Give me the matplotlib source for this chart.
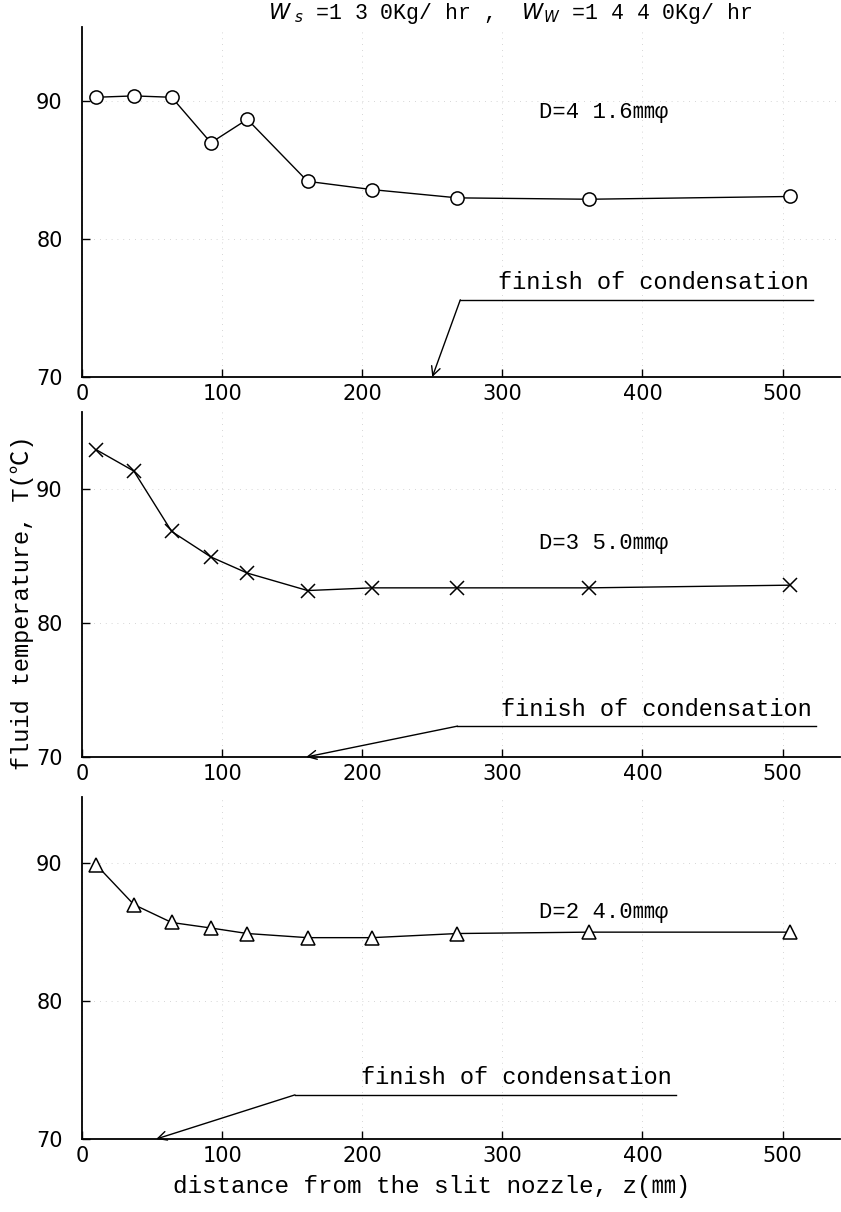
import matplotlib
matplotlib.use("Agg")
import matplotlib.pyplot as plt

# distance from nozzle (mm) and fluid temperature (C) for three pipe diameters
z = [10, 37, 64, 92, 118, 161, 207, 268, 362, 505]
T_416 = [90.3, 90.4, 90.3, 87.0, 88.7, 84.2, 83.6, 83.0, 82.9, 83.1]
T_350 = [92.9, 91.3, 86.8, 84.9, 83.7, 82.4, 82.6, 82.6, 82.6, 82.8]
T_240 = [89.9, 87.0, 85.7, 85.3, 84.9, 84.6, 84.6, 84.9, 85.0, 85.0]

d_labels = ["D=4 1.6㎜φ", "D=3 5.0㎜φ", "D=2 4.0㎜φ"]
markers = ["o", "x", "^"]
finish_z = [250, 160, 53]          # finish of condensation
xticks = [0, 100, 200, 300, 400, 500]
yticks = [70, 80, 90]

mono = ["Liberation Mono", "Noto Sans CJK JP", "DejaVu Sans"]
plt.rcParams["font.family"] = ["DejaVu Sans", "Noto Sans CJK JP"]

fig = plt.figure(figsize=(8.41, 12.12), dpi=100)
W, H = 841.0, 1212.0
# axes boxes in pixels: left, top, right, bottom
boxes = [(82, 27, 840, 377), (82, 412, 840, 757), (82, 797, 840, 1139)]
ytops = [95.4, 95.7, 94.8]
# annotation: underline start x, end x, y
notes = [(270, 522, 75.6), (268, 524, 72.3), (152, 424, 73.2)]
dpos = [(326, 89.2), (326, 85.9), (326, 86.4)]

series = [T_416, T_350, T_240]
for i in range(3):
    l, t, r, b = boxes[i]
    ax = fig.add_axes([l / W, 1 - b / H, (r - l) / W, (b - t) / H])
    ax.plot(z, series[i], color="black", lw=1.0, marker=markers[i],
            ms=10 if markers[i] != "o" else 9.5, mfc="white", mec="black",
            mew=1.1, zorder=3)
    ax.set_xlim(0, 541)
    ax.set_ylim(70, ytops[i])
    for s in ["top", "right"]:
        ax.spines[s].set_visible(False)
    ax.spines["left"].set_linewidth(1.3)
    ax.spines["bottom"].set_linewidth(1.3)
    ax.set_xticks(xticks)
    ax.set_yticks(yticks)
    ax.set_xticklabels([str(v) for v in xticks], fontsize=15)
    ax.set_yticklabels([str(v) for v in yticks], fontsize=15)
    ax.tick_params(direction="in", length=6, width=1)
    ax.tick_params(axis="x", pad=5)
    ax.tick_params(axis="y", pad=14)
    ax.grid(True, color="#c8c8c8", lw=0.6, ls=(0, (1, 6)))
    ax.set_axisbelow(True)

    x0, x1, yl = notes[i]
    ax.plot([x0, x1], [yl, yl], color="black", lw=1.0, clip_on=False)
    ax.annotate("", xy=(finish_z[i], 70), xytext=(x0, yl),
                arrowprops=dict(arrowstyle="->", color="black", lw=1.0,
                                shrinkA=0, shrinkB=0, mutation_scale=16),
                annotation_clip=False)
    ax.text(x1 - 3, yl + 0.4, "finish of condensation", family=mono,
            fontsize=17, ha="right", va="bottom")
    ax.text(dpos[i][0], dpos[i][1], d_labels[i], family=mono, fontsize=16,
            ha="left", va="center")

fig.text(510 / W, 1 - 14 / H,
         r"$\mathit{W}_{\ s}$ =1 3 0Kg/ hr ,  $\mathit{W}_{\mathit{W}}$ =1 4 4 0Kg/ hr",
         family=mono, fontsize=15.5, ha="center", va="center")
fig.text(22 / W, 1 - 603 / H, "fluid temperature, T(℃)",
         family=mono, fontsize=17, rotation=90, ha="center", va="center")
fig.text(432 / W, 1 - 1186 / H, "distance from the slit nozzle, z(㎜)",
         family=mono, fontsize=17.5, ha="center", va="center")

fig.savefig("out.png", dpi=100)
